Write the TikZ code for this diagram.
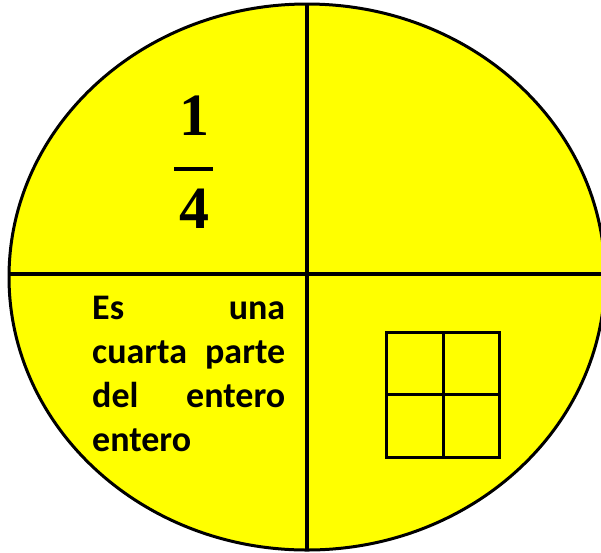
\documentclass[tikz,border=0pt]{standalone}
\usepackage{fontspec}
\setmainfont{Carlito}
\newfontfamily\numfont{Liberation Serif}
\definecolor{yel}{RGB}{255,255,0}
\begin{document}
\begin{tikzpicture}[x=1pt,y=-1pt,
  txt/.style={font=\bfseries\fontsize{36}{44}\selectfont, inner sep=0pt, anchor=base west},
  num/.style={font=\numfont\bfseries\fontsize{60}{60}\selectfont, inner sep=0pt, anchor=base},
  divline/.style={line width=3.5pt, black},
  gridline/.style={line width=3pt, black}]
\useasboundingbox (0,0) rectangle (601,552);
\clip (0,0) rectangle (601,552);
\fill[yel] (307,277) ellipse [x radius=298, y radius=273];
\begin{scope}
  \clip (307,277) ellipse [x radius=298, y radius=273];
  \draw[divline] (307,0) -- (307,552);
  \draw[divline] (0,274) -- (610,274);
\end{scope}
\draw[line width=3pt] (307,277) ellipse [x radius=298, y radius=273];
% fraction
\node[num] (n1) at (194,135) {1};
\node[num] (n4) at (194,228) {4};
\draw[line width=4pt] (174,169) -- (213,169);
% text
\node[txt] (l1) at (92,319) {\hbox to 193pt{Es\hfill una}};
\node[txt] (l2) at (92,363) {\hbox to 193pt{cuarta\hfill parte}};
\node[txt] (l3) at (92,407) {\hbox to 193pt{del\hfill entero}};
\node[txt] (l4) at (92,451) {entero};
% grid
\draw[gridline] (386,332) rectangle (499,457);
\draw[gridline] (443,332) -- (443,457);
\draw[gridline] (386,394) -- (499,394);
\end{tikzpicture}
\end{document}
